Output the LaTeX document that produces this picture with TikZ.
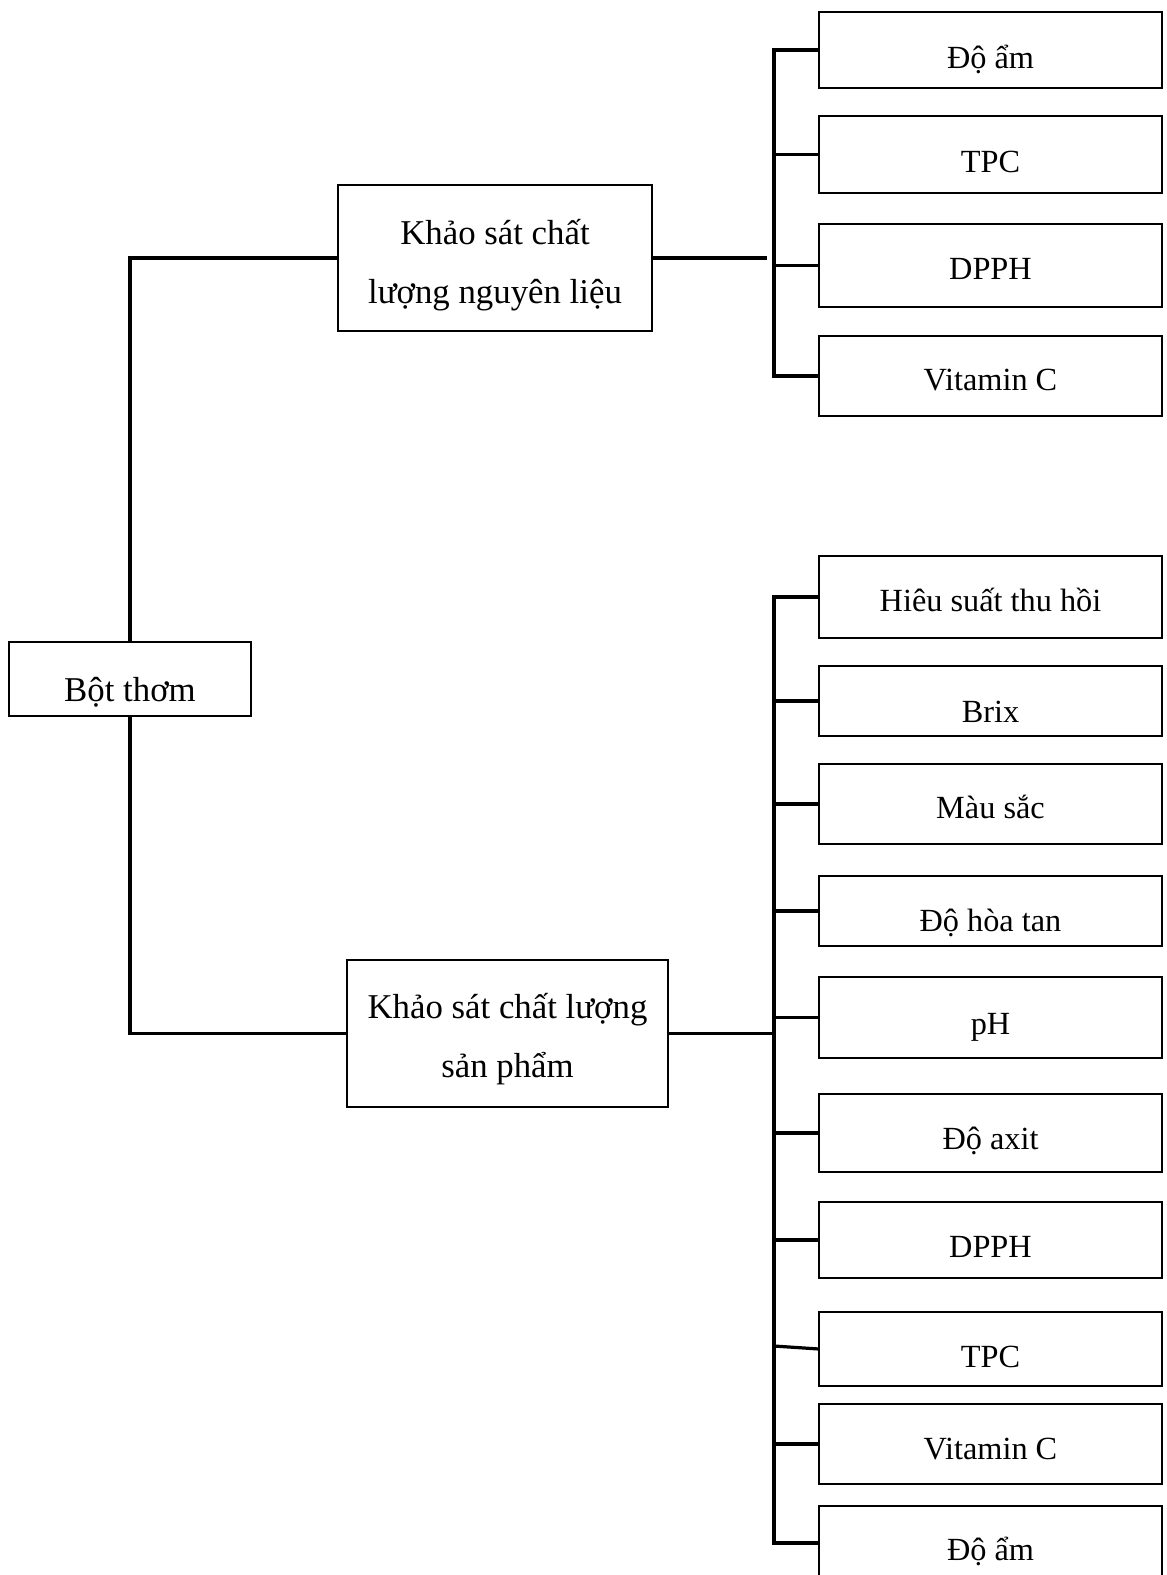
\documentclass[tikz,border=0pt]{standalone}
\usepackage{fontspec}
\setmainfont{Liberation Serif}
% leaf box on the right: name, top, bottom, baseline, text
\newcommand\leafbox[5]{%
  \node[leaf, minimum height={(#3-#2)*1pt}] (#1) at (990.5,{(#2+#3)/2}) {};
  \node[lbl] (#1t) at (990.5,#4) {#5};}
\begin{document}
\begin{tikzpicture}[x=1pt,y=-1pt,
  frame/.style={draw=black, line width=2.2pt, rectangle, inner sep=0pt, outer sep=0pt},
  leaf/.style={frame, minimum width=343pt},
  lbl/.style={inner sep=0pt, font=\fontsize{32.3}{38}\selectfont, anchor=base},
  big/.style={lbl, font=\fontsize{34.8}{42}\selectfont},
  conn/.style={draw=black, line width=3.2pt}]
\useasboundingbox (0,0) rectangle (1167,1575);
\clip (0,0) rectangle (1167,1575);

% root and the two survey boxes
\node[frame, minimum width=242pt, minimum height=74pt] (root) at (130,679) {};
\node[big] (roott) at (130,701) {Bột thơm};
\node[frame, minimum width=314pt, minimum height=146pt] (k1) at (495,258) {};
\node[big] (k1a) at (495,244) {Khảo sát chất};
\node[big] (k1b) at (495,303) {lượng nguyên liệu};
\node[frame, minimum width=321pt, minimum height=147pt] (k2) at (507.5,1033.5) {};
\node[big] (k2a) at (507.5,1018) {Khảo sát chất lượng};
\node[big] (k2b) at (507.5,1077) {sản phẩm};

% raw-material indicators
\leafbox{a1}{12}{88}{68}{Độ ẩm}
\leafbox{a2}{116}{193}{172}{TPC}
\leafbox{a3}{224}{307}{279}{DPPH}
\leafbox{a4}{336}{416}{390}{Vitamin C}

% product indicators
\leafbox{b1}{556}{638}{611}{Hiêu suất thu hồi}
\leafbox{b2}{666}{736}{722}{Brix}
\leafbox{b3}{764}{844}{818}{Màu sắc}
\leafbox{b4}{876}{946}{931}{Độ hòa tan}
\leafbox{b5}{977}{1058}{1034}{pH}
\leafbox{b6}{1094}{1172}{1149}{Độ axit}
\leafbox{b7}{1202}{1278}{1257}{DPPH}
\leafbox{b8}{1312}{1386}{1367}{TPC}
\leafbox{b9}{1404}{1484}{1459}{Vitamin C}
\leafbox{b10}{1506}{1580}{1560}{Độ ẩm}

% bus positions
\coordinate (bus1) at (774,0);
\coordinate (bus2) at (774,0);
\coordinate (k1end) at (767,258);

% root to survey boxes
\draw[conn] (root.north) -- (root.north |- k1.west) -- (k1.west);
\draw[conn] (root.south) -- (root.south |- k2.west) -- (k2.west);

% upper bracket
\draw[conn] (k1.east) -- (k1end);
\draw[conn] (a1.west) -- (a1.west -| bus1) -- (a4.west -| bus1) -- (a4.west);
\draw[conn] (a2.west) -- (a2.west -| bus1);
\draw[conn] (a3.west) -- (a3.west -| bus1);

% lower bracket
\draw[conn] (k2.east) -- (k2.east -| bus2);
\draw[conn] (b1.west) -- (b1.west -| bus2) -- (b10.west -| bus2) -- (b10.west);
\foreach \n in {b2,b3,b4,b5,b6,b7,b9}
  \draw[conn] (\n.west) -- (\n.west -| bus2);
\draw[conn] (b8.west) -- ++(-45,-3);
\end{tikzpicture}
\end{document}
